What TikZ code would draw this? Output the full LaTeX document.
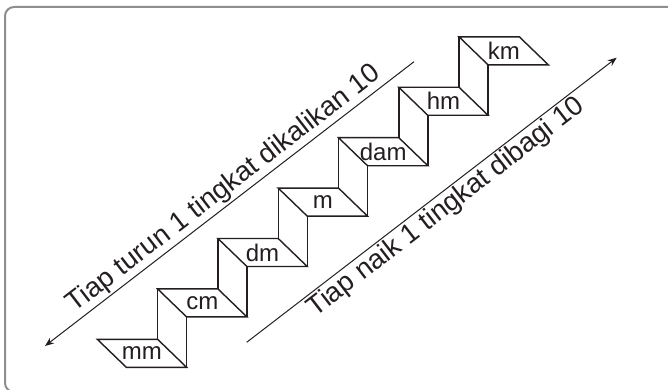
\documentclass[tikz,border=0pt]{standalone}
\usepackage{fontspec}
\setmainfont{Liberation Sans}
\usetikzlibrary{arrows.meta,calc}
\definecolor{ink}{HTML}{231F20}
\definecolor{framegray}{HTML}{8E8E8E}
\tikzset{
  stairline/.style={draw=ink, line width=1.4pt, line join=miter},
  unitlabel/.style={font=\fontsize{24}{24}\selectfont, text=ink, inner sep=0pt},
  ruleline/.style={draw=ink, line width=1pt},
  ruletext/.style={font=\fontsize{27.5}{27.5}\selectfont, text=ink, inner sep=2pt, rotate=37.6},
}
\begin{document}
\begin{tikzpicture}[x=1pt,y=-1pt]
\useasboundingbox (0,0) rectangle (668,390);
\fill[white] (0,0) rectangle (668,390);
% frame
\draw[framegray, line width=2pt, rounded corners=9pt] (5,7) rectangle (720,392);
% stairs
\def\sx{60.3}\def\sy{50.4}\def\dx{29}\def\dy{28}
\foreach \i/\lab in {0/mm,1/cm,2/dm,3/m,4/dam,5/hm,6/km}{
  \coordinate (TL\i) at ({97.3+\sx*\i},{339.3-\sy*\i});
  \coordinate (TR\i) at ($(TL\i)+(\sx,0)$);
  \coordinate (BL\i) at ($(TL\i)+(\dx,\dy)$);
  \coordinate (BR\i) at ($(TR\i)+(\dx,\dy)$);
  \draw[stairline] (TL\i) -- (TR\i) -- (BR\i) -- (BL\i) -- cycle;
  \node[unitlabel] (L\i) at ($(TL\i)!0.5!(BR\i)+(0,0)$) {\lab};
}
\foreach \i [evaluate=\i as \j using int(\i+1)] in {0,...,5}{
  \draw[stairline] (TR\i) -- (TL\j);
  \draw[stairline] (BR\i) -- (BL\j);
}
% rules
\coordinate (A1) at (414,61.7);
\coordinate (A2) at (45,346);
\coordinate (B1) at (246.7,342.3);
\coordinate (B2) at (616.7,57.7);
\draw[ruleline, -{Stealth[length=9pt,width=7pt]}] (A1) -- (A2);
\draw[ruleline, -{Stealth[length=9pt,width=7pt]}] (B1) -- (B2);
\node[ruletext, anchor=south] (TA) at ($(A1)!0.49!(A2)$) {Tiap turun 1 tingkat dikalikan 10};
\node[ruletext, anchor=north] (TB) at ($(B1)!0.515!(B2)$) {Tiap naik 1 tingkat dibagi 10};
\end{tikzpicture}
\end{document}
